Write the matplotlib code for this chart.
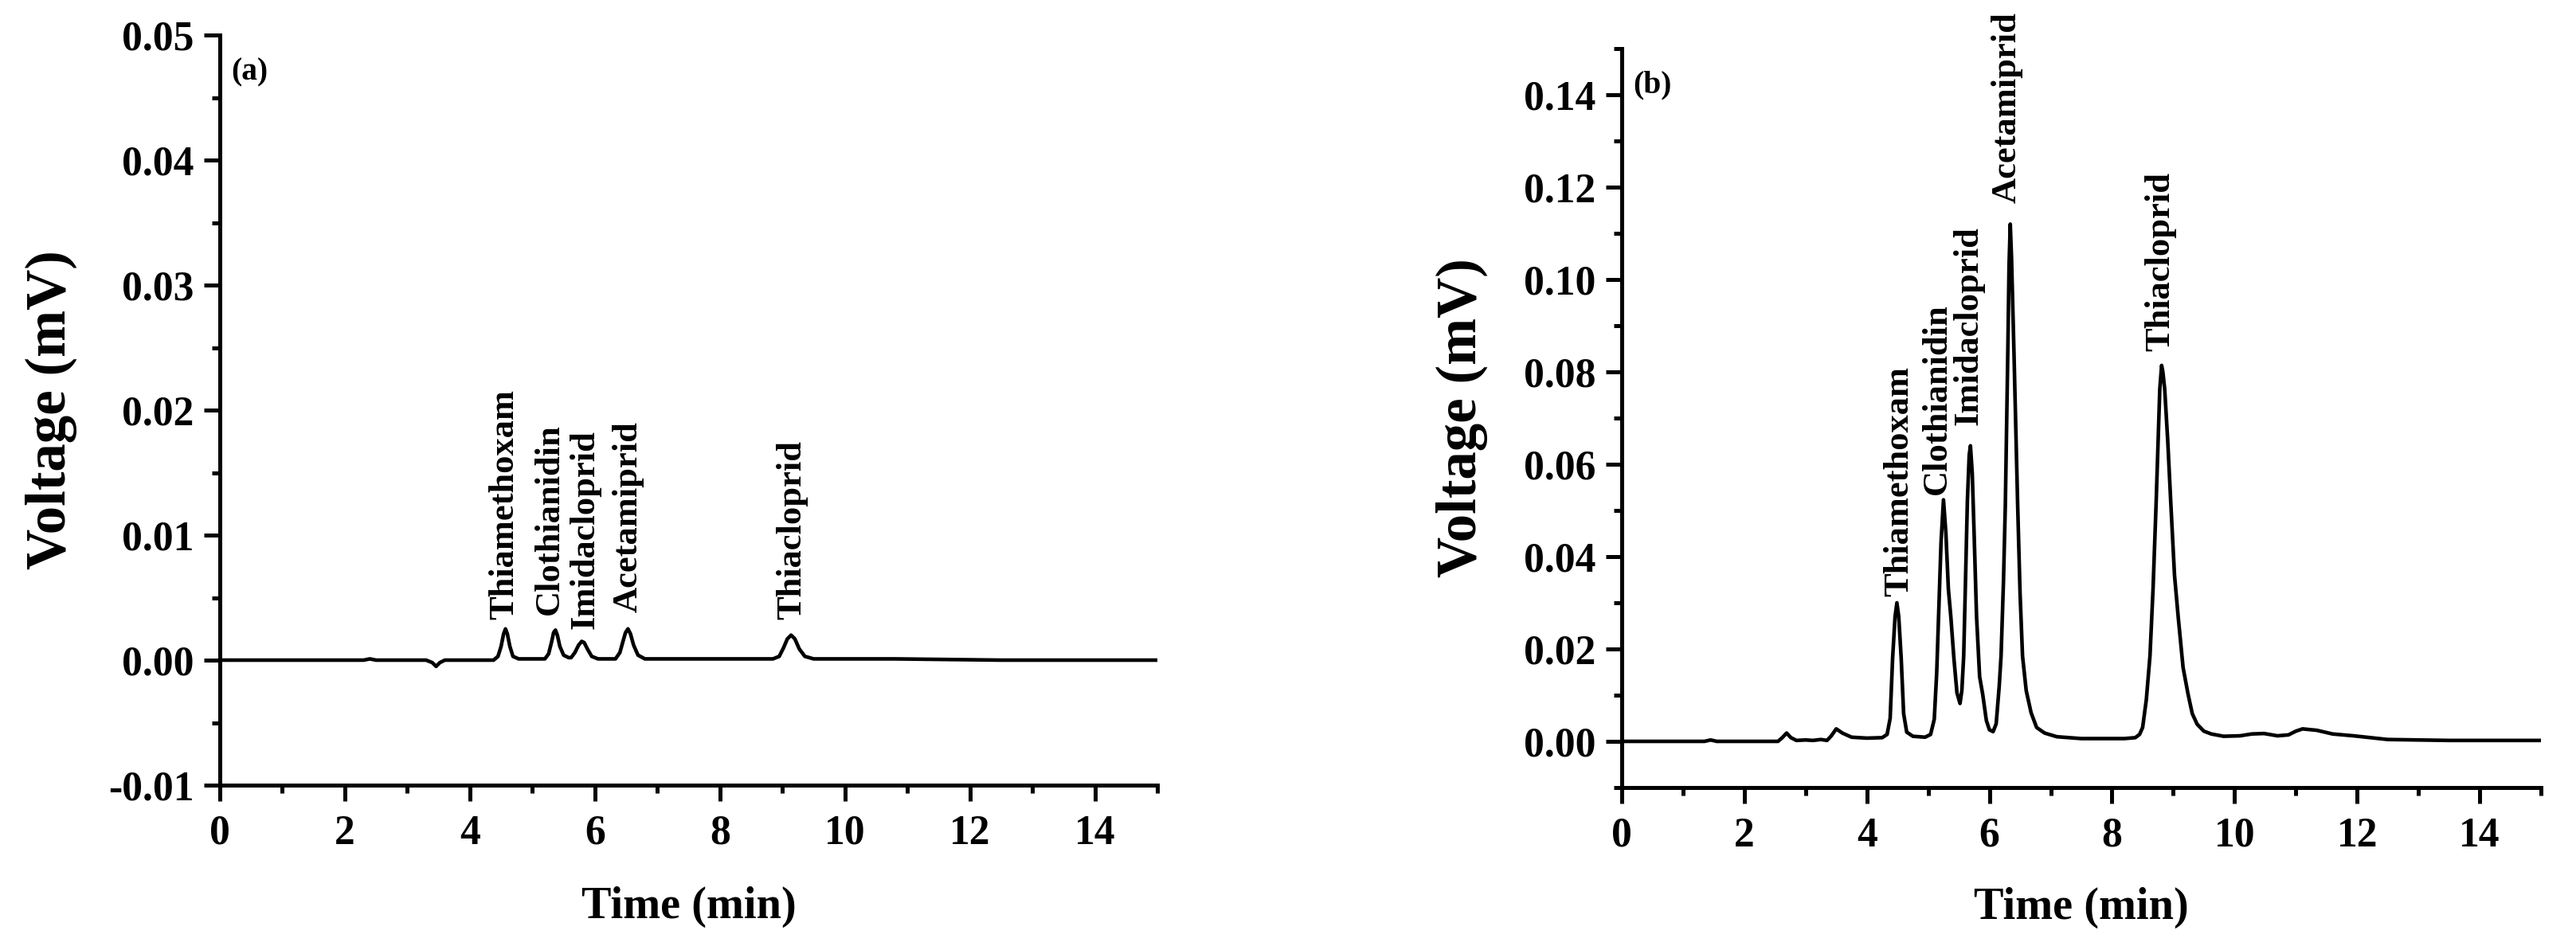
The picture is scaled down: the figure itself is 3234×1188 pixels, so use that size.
import matplotlib
matplotlib.use("Agg")
import matplotlib.pyplot as plt
from matplotlib.ticker import MultipleLocator, FormatStrFormatter

plt.rcParams["font.family"] = ["Liberation Serif", "DejaVu Serif"]
plt.rcParams["font.weight"] = "bold"
plt.rcParams["axes.labelweight"] = "bold"

# compound names (same order in both panels)
compounds = ["Thiamethoxam", "Clothianidin", "Imidacloprid", "Acetamiprid", "Thiacloprid"]

# panel (a): chromatogram (min, mV)
time_a = [0, 2.3, 2.4, 2.5, 3.3, 3.4, 3.46, 3.52, 3.6,
          4.38, 4.45, 4.50, 4.54, 4.57, 4.60, 4.64, 4.69, 4.78,
          5.20, 5.26, 5.31, 5.34, 5.37, 5.40, 5.44, 5.50, 5.58,
          5.62, 5.68, 5.74, 5.79, 5.83, 5.88, 5.95, 6.05,
          6.33, 6.40, 6.45, 6.49, 6.53, 6.57, 6.62, 6.69, 6.80,
          8.85, 8.95, 9.02, 9.08, 9.14, 9.20, 9.27, 9.36, 9.50,
          10.8, 12.5, 15.0]
volt_a = [0, 0, 0.0001, 0, 0, -0.0002, -0.0005, -0.0002, 0,
          0, 0.0003, 0.0011, 0.0021, 0.0025, 0.0021, 0.0011, 0.0003, 0.0001,
          0.0001, 0.0005, 0.0015, 0.0022, 0.0024, 0.0020, 0.0011, 0.0004, 0.0002,
          0.0002, 0.0006, 0.0012, 0.0015, 0.0014, 0.0009, 0.0003, 0.0001,
          0.0001, 0.0006, 0.0015, 0.0022, 0.0025, 0.0021, 0.0012, 0.0004, 0.0001,
          0.0001, 0.0003, 0.0010, 0.0017, 0.0020, 0.0017, 0.0009, 0.0003, 0.0001,
          0.0001, 0, 0]

# label anchors (a): x centre, bottom of text
label_x_a = [4.55, 5.27, 5.84, 6.53, 9.16]
label_y_a = [0.00325, 0.0036, 0.0025, 0.0038, 0.00325]

# panel (b)
time_b = [0, 1.35, 1.45, 1.55, 2.55, 2.62, 2.69, 2.76, 2.85, 3.0, 3.12, 3.25, 3.35,
          3.42, 3.5, 3.6, 3.75, 4.0, 4.25,
          4.33, 4.38, 4.42, 4.46, 4.49, 4.52, 4.56, 4.60, 4.65, 4.75, 4.95,
          5.04, 5.10, 5.14, 5.17, 5.21, 5.25, 5.29, 5.33, 5.37, 5.42, 5.47, 5.52,
          5.55, 5.58, 5.61, 5.64, 5.67, 5.69, 5.72, 5.75, 5.79, 5.84, 5.89, 5.95, 6.0, 6.06,
          6.11, 6.16, 6.19, 6.23, 6.26, 6.30, 6.32, 6.34, 6.36, 6.40, 6.46, 6.50, 6.54,
          6.60, 6.68, 6.77, 6.9, 7.1, 7.5, 8.2, 8.38,
          8.45, 8.50, 8.56, 8.62, 8.67, 8.72, 8.78, 8.81, 8.83, 8.86, 8.91, 8.96, 9.02,
          9.08, 9.16, 9.24, 9.31, 9.39, 9.5, 9.62, 9.82, 10.09,
          10.28, 10.48, 10.7, 10.88, 11.0, 11.11, 11.34, 11.6, 11.94, 12.5, 13.5, 15.0]
volt_b = [0, 0, 0.0003, 0, 0, 0.0008, 0.0018, 0.0008, 0.0002, 0.0003, 0.0002, 0.0004, 0.0002,
          0.0012, 0.0027, 0.0018, 0.0009, 0.0007, 0.0008,
          0.0015, 0.005, 0.018, 0.027, 0.030, 0.027, 0.018, 0.006, 0.002, 0.0011, 0.0009,
          0.0015, 0.0048, 0.015, 0.027, 0.043, 0.0523, 0.045, 0.033, 0.027, 0.018, 0.0105, 0.0082,
          0.011, 0.0185, 0.035, 0.052, 0.062, 0.064, 0.058, 0.045, 0.027, 0.014, 0.0102, 0.0045, 0.0025, 0.0021,
          0.0038, 0.012, 0.0185, 0.035, 0.0515, 0.0844, 0.103, 0.112, 0.105, 0.0844, 0.0515, 0.032, 0.0185,
          0.011, 0.0062, 0.003, 0.0018, 0.001, 0.0006, 0.0006, 0.0008,
          0.0015, 0.003, 0.009, 0.0185, 0.033, 0.0515, 0.0763, 0.0814, 0.080, 0.0763, 0.065, 0.0515, 0.036,
          0.027, 0.016, 0.0103, 0.006, 0.0037, 0.0022, 0.0016, 0.0011, 0.0012,
          0.0016, 0.0017, 0.0012, 0.0014, 0.0022, 0.0027, 0.0024, 0.0016, 0.0012, 0.0004, 0.0002, 0.0002]

label_x_b = [4.53, 5.14, 5.66, 6.29, 8.79]
label_y_b = [0.0313, 0.0535, 0.0684, 0.1166, 0.0844]

W, H = 3234, 1188
fig = plt.figure(figsize=(W / 300, H / 300), dpi=300)

# axes boxes in pixels: left, right, top, bottom
ax_a = fig.add_axes([276 / W, 1 - 986 / H, (1453 - 276) / W, (986 - 44) / H])
ax_b = fig.add_axes([2036 / W, 1 - 989 / H, (3190 - 2036) / W, (989 - 61) / H])


def style(ax, ylim, ymaj, ymin, tag):
    ax.set_xlim(0, 15)
    ax.set_ylim(*ylim)
    ax.xaxis.set_major_locator(MultipleLocator(2))
    ax.xaxis.set_minor_locator(MultipleLocator(1))
    ax.yaxis.set_major_locator(MultipleLocator(ymaj))
    ax.yaxis.set_minor_locator(MultipleLocator(ymin))
    ax.yaxis.set_major_formatter(FormatStrFormatter("%.2f"))
    ax.spines["top"].set_visible(False)
    ax.spines["right"].set_visible(False)
    for s in ("left", "bottom"):
        ax.spines[s].set_linewidth(1.2)
    ax.tick_params(which="major", length=4.8, width=1.2, labelsize=12.4, pad=3)
    ax.tick_params(which="minor", length=2.4, width=1.2)
    ax.tick_params(axis="x", which="major", pad=4)
    ax.set_xlabel("Time (min)", fontsize=13.5)
    ax.set_ylabel("Voltage (mV)", fontsize=17)
    ax.text(0.012, 0.97, tag, transform=ax.transAxes, fontsize=9.5,
            ha="left", va="top")


style(ax_a, (-0.01, 0.05), 0.01, 0.005, "(a)")
style(ax_b, (-0.01, 0.15), 0.02, 0.01, "(b)")
ax_a.xaxis.set_label_coords(0.5, -0.135)
ax_b.xaxis.set_label_coords(0.5, -0.134)
ax_a.yaxis.set_label_coords(-0.152, 0.5)
ax_b.yaxis.set_label_coords(-0.146, 0.5)

ax_a.plot(time_a, volt_a, color="black", lw=1.1)
ax_b.plot(time_b, volt_b, color="black", lw=1.1)

for name, x, y in zip(compounds, label_x_a, label_y_a):
    ax_a.text(x, y, name, rotation=90, ha="center", va="bottom", fontsize=10.7)
for name, x, y in zip(compounds, label_x_b, label_y_b):
    ax_b.text(x, y, name, rotation=90, ha="center", va="bottom", fontsize=10.7)

fig.savefig("out.png", dpi=300)
